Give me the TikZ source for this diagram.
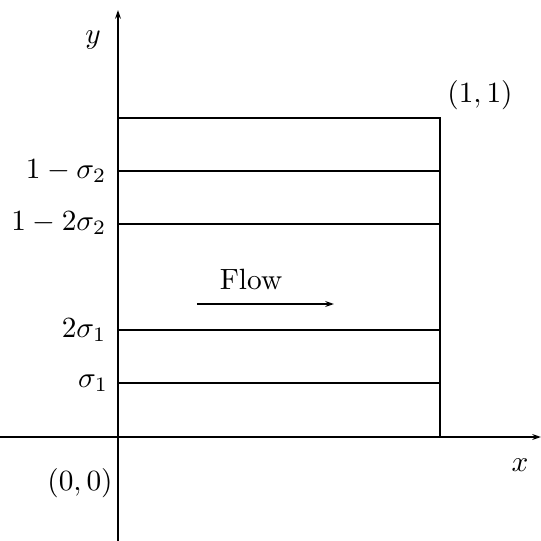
\documentclass[tikz,border=0pt]{standalone}
\usetikzlibrary{arrows.meta}
\begin{document}
\begin{tikzpicture}[x=0.012cm,y=0.012cm,line width=0.6pt,
  tip/.style={-{Stealth[length=3pt,width=2pt]}}]
\useasboundingbox (0,0) rectangle (541,541);
% axes
\coordinate (ybot) at (118,0);
\coordinate (ytop) at (118,531);
\coordinate (xleft) at (0,104);
\coordinate (xright) at (541,104);
\draw[tip] (ybot) -- (ytop);
\draw[tip] (xleft) -- (xright);
% box
\coordinate (o) at (118,104);
\coordinate (tl) at (118,423);
\coordinate (tr) at (440,423);
\coordinate (br) at (440,104);
\draw (tl) -- (tr) -- (br);
\node (ylab) at (93,501) {$y$};
\node (xlab) at (520,76) {$x$};
\node (corner) at (480,446) {$(1,1)$};
\node (origin) at (80,58) {$(0,0)$};
% strips
\node[anchor=east] (s4) at (117,370) {$1-\sigma_2$};
\node[anchor=east] (s3) at (117,318) {$1-2\sigma_2$};
\node[anchor=east] (s2) at (117,211) {$2\sigma_1$};
\node (s1) at (93,158) {$\sigma_1$};
\coordinate (e4) at (440,370);
\coordinate (e3) at (440,317);
\coordinate (e2) at (440,211);
\coordinate (e1) at (440,158);
\draw (118,370) -- (e4);
\draw (118,317) -- (e3);
\draw (118,211) -- (e2);
\draw (118,158) -- (e1);
% flow
\node (flow) at (251,262) {Flow};
\coordinate (fa) at (197,237);
\coordinate (fb) at (334,237);
\draw[tip] (fa) -- (fb);
\end{tikzpicture}
\end{document}
